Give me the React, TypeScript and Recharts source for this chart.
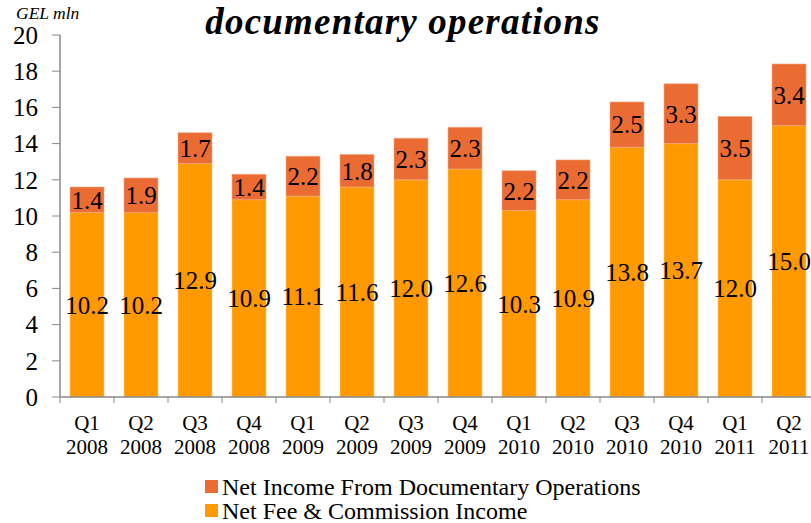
import React from 'react';
import { BarChart, Bar, XAxis, YAxis, LabelList } from 'recharts';

const quarters = ['Q1', 'Q2', 'Q3', 'Q4', 'Q1', 'Q2', 'Q3', 'Q4', 'Q1', 'Q2', 'Q3', 'Q4', 'Q1', 'Q2'];
const years = ['2008', '2008', '2008', '2008', '2009', '2009', '2009', '2009', '2010', '2010', '2010', '2010', '2011', '2011'];
const feeValues = [10.2, 10.2, 12.9, 10.9, 11.1, 11.6, 12.0, 12.6, 10.3, 10.9, 13.8, 14.0, 12.0, 15.0];
const feeLabels = ['10.2', '10.2', '12.9', '10.9', '11.1', '11.6', '12.0', '12.6', '10.3', '10.9', '13.8', '13.7', '12.0', '15.0'];
const docValues = [1.4, 1.9, 1.7, 1.4, 2.2, 1.8, 2.3, 2.3, 2.2, 2.2, 2.5, 3.3, 3.5, 3.4];
const docLabels = ['1.4', '1.9', '1.7', '1.4', '2.2', '1.8', '2.3', '2.3', '2.2', '2.2', '2.5', '3.3', '3.5', '3.4'];
const yTicks = [0, 2, 4, 6, 8, 10, 12, 14, 16, 18, 20];

const seriesNames = ['Net Income From Documentary Operations', 'Net Fee & Commission Income'];
const COLOR_DOC = '#EA6C33';
const COLOR_FEE = '#FF9900';
const FONT = 'Liberation Serif';

const data = quarters.map((q, i) => ({
  cat: `${q} ${years[i]}`,
  fee: feeValues[i],
  feeLabel: feeLabels[i],
  doc: docValues[i],
  docLabel: docLabels[i],
}));

const CHART_W = 820;
const LEFT = 60;
const RIGHT = 4;
const BAND = (CHART_W - LEFT - RIGHT) / quarters.length;

const XTick = (props: any) => {
  const { x, y, payload, index } = props;
  const [q, yr] = String(payload.value).split(' ');
  return (
    <g>
      <line x1={x - BAND / 2} x2={x - BAND / 2} y1={y} y2={y + 6} stroke="#888" strokeWidth={1} />
      {index === quarters.length - 1 && (
        <line x1={x + BAND / 2} x2={x + BAND / 2} y1={y} y2={y + 6} stroke="#888" strokeWidth={1} />
      )}
      <text x={x} y={y + 33} textAnchor="middle" fontSize={21} fontFamily={FONT} fill="#000">{q}</text>
      <text x={x} y={y + 57} textAnchor="middle" fontSize={21} fontFamily={FONT} fill="#000">{yr}</text>
    </g>
  );
};

export default function App() {
  return (
    <div style={{ position: 'absolute', left: 0, top: 0, width: 811, height: 523, overflow: 'hidden', background: '#fff', fontFamily: FONT }}>
      <BarChart
        width={CHART_W}
        height={523}
        data={data}
        margin={{ top: 35, right: RIGHT, left: 0, bottom: 66 }}
        barSize={34}
        style={{ fontFamily: FONT }}
      >
        <XAxis
          dataKey="cat"
          height={60}
          interval={0}
          axisLine={{ stroke: '#888', strokeWidth: 1.5 }}
          tickLine={false}
          tickSize={0}
          tickMargin={0}
          tick={<XTick />}
        />
        <YAxis
          width={LEFT}
          domain={[0, 20]}
          ticks={yTicks}
          interval={0}
          axisLine={{ stroke: '#888', strokeWidth: 1.5 }}
          tickLine={{ stroke: '#888' }}
          tickSize={8}
          tickMargin={14}
          tick={{ fontSize: 25, fontFamily: FONT, fill: '#000' }}
        />
        <Bar dataKey="fee" stackId="a" fill={COLOR_FEE} stroke="#FFC880" strokeWidth={0.6} isAnimationActive={false}>
          <LabelList dataKey="feeLabel" position="center" fontSize={25} fontFamily={FONT} fill="#000" />
        </Bar>
        <Bar dataKey="doc" stackId="a" fill={COLOR_DOC} stroke="#F4A880" strokeWidth={0.6} isAnimationActive={false}>
          <LabelList dataKey="docLabel" position="center" fontSize={25} fontFamily={FONT} fill="#000" />
        </Bar>
      </BarChart>
      <svg width={811} height={523} style={{ position: 'absolute', left: 0, top: 0, pointerEvents: 'none' }}>
        <text x={16} y={19} fontSize={17.5} fontStyle="italic" fontFamily={FONT} fill="#000">GEL mln</text>
        <text x={403} y={34} textAnchor="middle" fontSize={37} letterSpacing={1.2} fontWeight="bold" fontStyle="italic" fontFamily={FONT} fill="#000">
          documentary operations
        </text>
        <rect x={205} y={480} width={13} height={13} fill={COLOR_DOC} />
        <text x={222} y={495} fontSize={24} fontFamily={FONT} fill="#000">{seriesNames[0]}</text>
        <rect x={205} y={504} width={13} height={13} fill={COLOR_FEE} />
        <text x={222} y={519} fontSize={24} fontFamily={FONT} fill="#000">{seriesNames[1]}</text>
      </svg>
    </div>
  );
}
